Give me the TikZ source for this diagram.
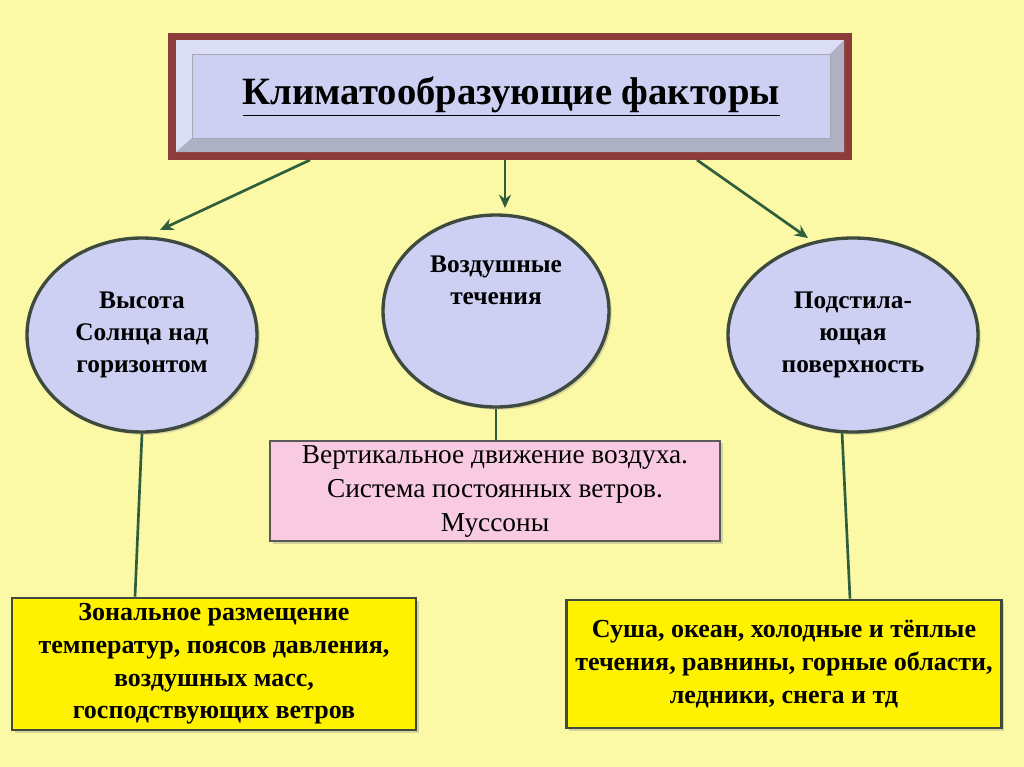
\documentclass[tikz,border=0pt]{standalone}
\usepackage{fontspec}
\setmainfont{Liberation Serif}
\usetikzlibrary{shapes.geometric,arrows.meta,shadows}
\definecolor{bg}{HTML}{FBF8A6}
\definecolor{lav}{HTML}{CDD0F2}
\definecolor{edge}{HTML}{3E4A3E}
\definecolor{arr}{HTML}{2F5E3C}
\definecolor{pinkf}{HTML}{F9CBE2}
\definecolor{frame}{HTML}{8E3B3B}
\tikzset{
 ell/.style={ellipse,draw=edge,line width=2.5pt,fill=lav,align=center,inner sep=0pt,font=\fontsize{19}{24}\selectfont\bfseries,drop shadow={shadow xshift=2pt,shadow yshift=-2pt,opacity=.3}},
 ybox/.style={draw=edge,line width=2pt,fill=yellow,align=center,font=\fontsize{19.5}{24.5}\selectfont\bfseries,drop shadow={shadow xshift=2pt,shadow yshift=-2pt,opacity=.3}},
 ar/.style={draw=arr,line width=2pt,-{Stealth[length=10pt,width=9pt]}},
 ln/.style={draw=arr,line width=2pt}
}
\begin{document}
\begin{tikzpicture}[x=0.75pt,y=-0.75pt]
\useasboundingbox[fill=bg] (0,0) rectangle (1024,767);
% title frame
\fill[frame] (168,33) rectangle (852,160);
\fill[lav!70!white] (176,40) rectangle (844,152);
\fill[lav!60!gray] (176,152) -- (192,138) -- (830,138) -- (844,152) -- cycle;
\fill[lav!60!gray] (844,40) -- (830,54) -- (830,138) -- (844,152) -- cycle;
\node[draw=lav!50!gray,fill=lav,minimum width=638*0.75pt,minimum height=84*0.75pt,anchor=north west,inner sep=0pt] (title) at (192,54) {};
\node[font=\fontsize{29}{34}\selectfont\bfseries] at (title.center) {\underline{Климатообразующие факторы}};
\coordinate (t1) at (310,160);
\coordinate (t2) at (505,160);
\coordinate (t3) at (697,160);
\node[ell,minimum width=230*0.75pt,minimum height=194*0.75pt] (e1) at (142,335) {Высота\\Солнца над\\горизонтом};
\node[ell,minimum width=226*0.75pt,minimum height=192*0.75pt] (e2) at (496,311) {Воздушные\\течения\\[1.2em]};
\node[ell,minimum width=250*0.75pt,minimum height=194*0.75pt] (e3) at (853,335) {Подстила-\\ющая\\поверхность};
\draw[ar] (t1) -- (160,230);
\draw[ar] (t2) -- (505,208);
\draw[ar] (t3) -- (808,238);
\node[draw=gray!70!black,line width=1.5pt,fill=pinkf,minimum width=450*0.75pt,minimum height=92*0.75pt,align=center,font=\fontsize{20.5}{25.5}\selectfont,drop shadow={shadow xshift=2pt,shadow yshift=-2pt,opacity=.3}] (m) at (495,491) {Вертикальное движение воздуха.\\Система постоянных ветров.\\Муссоны};
\node[ybox,minimum width=404*0.75pt,minimum height=132*0.75pt] (b1) at (214,664) {Зональное размещение\\температур, поясов давления,\\воздушных масс,\\господствующих ветров};
\node[ybox,minimum width=435*0.75pt,minimum height=128*0.75pt] (b2) at (784,664) {Суша, океан, холодные и тёплые\\течения, равнины, горные области,\\ледники, снега и тд};
\draw[ln] (e1.south) -- (b1.north -| 135,0);
\draw[ln] (e2.south) -- (m.north -| e2.south);
\draw[ln] (842,432) -- (b2.north -| 850,0);
\end{tikzpicture}
\end{document}
